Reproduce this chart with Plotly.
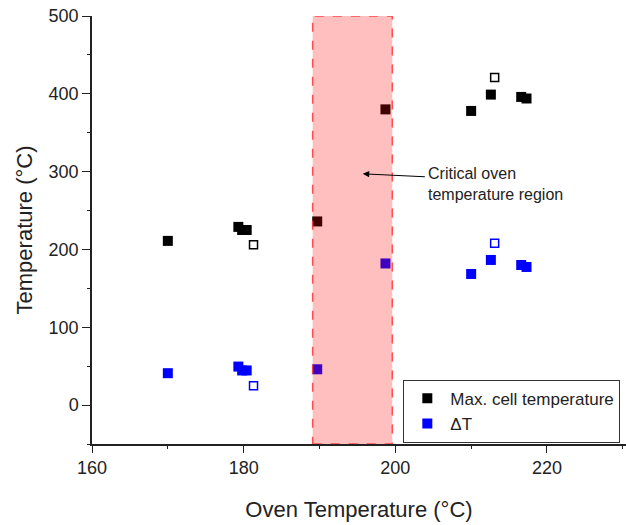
import plotly.graph_objects as go

# ---- data ----
oven_temp = [170.0, 179.3, 179.8, 180.4, 181.3, 189.7, 198.7, 210.0, 212.6, 213.1, 216.6, 217.3]
max_cell_temp = [211, 229, 225, 225, 206, 236, 380, 378, 399, 421, 396, 394]
delta_t = [41, 49.5, 44.5, 44.5, 25, 46, 182, 168.5, 186.5, 208, 180, 177.5]
open_marker = [False, False, False, False, True, False, False, False, False, True, False, False]

region_x = [189.1, 199.6]
region_y = [-50, 500]

x_ticks = [160, 180, 200, 220]
y_ticks = [0, 100, 200, 300, 400, 500]

FONT = "Arial, 'Liberation Sans', Helvetica, sans-serif"

def pick(vals, flag):
    return [v for v, o in zip(vals, open_marker) if o == flag]

fig = go.Figure()

# filled markers
fig.add_trace(go.Scatter(
    x=pick(oven_temp, False), y=pick(max_cell_temp, False), mode="markers",
    name="Max. cell temperature",
    marker=dict(symbol="square", size=10, color="#000000", line=dict(width=0)),
))
fig.add_trace(go.Scatter(
    x=pick(oven_temp, False), y=pick(delta_t, False), mode="markers",
    name="\u0394T",
    marker=dict(symbol="square", size=10, color="#0000ff", line=dict(width=0)),
))
# open markers
fig.add_trace(go.Scatter(
    x=pick(oven_temp, True), y=pick(max_cell_temp, True), mode="markers",
    showlegend=False,
    marker=dict(symbol="square-open", size=8, color="#000000", line=dict(width=1.5, color="#000000")),
))
fig.add_trace(go.Scatter(
    x=pick(oven_temp, True), y=pick(delta_t, True), mode="markers",
    showlegend=False,
    marker=dict(symbol="square-open", size=8, color="#0000ff", line=dict(width=1.5, color="#0000ff")),
))

# critical region band (drawn above markers, translucent)
fig.add_shape(
    type="rect", xref="x", yref="y",
    x0=region_x[0], x1=region_x[1], y0=region_y[0], y1=region_y[1],
    fillcolor="rgba(255,0,0,0.25)",
    line=dict(color="rgba(255,60,60,0.9)", width=1.5, dash="dash"),
    layer="above",
)

# annotation text
fig.add_annotation(
    x=204.4, y=284, xref="x", yref="y", xshift=-3,
    text="Critical oven<br>temperature region",
    showarrow=False, xanchor="left", yanchor="middle", align="left",
    font=dict(family=FONT, size=16, color="#222222"),
)
# arrow
fig.add_annotation(
    x=195.7, y=297.2, xref="x", yref="y",
    ax=204.1, ay=293.3, axref="x", ayref="y",
    text="", showarrow=True, arrowhead=2, arrowsize=1.3, arrowwidth=1,
    arrowcolor="#000000", standoff=0, startstandoff=0,
)

fig.update_layout(
    width=626, height=525,
    margin=dict(l=92, r=0, t=16, b=81, autoexpand=False),
    plot_bgcolor="white", paper_bgcolor="white",
    font=dict(family=FONT, size=18, color="#222222"),
    showlegend=True,
    legend=dict(
        x=0.583, y=0.15, xanchor="left", yanchor="top",
        bgcolor="white", bordercolor="#333333", borderwidth=1,
        itemwidth=36,
        font=dict(family=FONT, size=17, color="#222222"),
    ),
    xaxis=dict(
        range=[160, 230.42], tickvals=x_ticks,
        ticks="outside", ticklen=7, tickwidth=1.2, tickcolor="#222222",
        showline=True, linecolor="#222222", linewidth=1.5,
        showgrid=False, zeroline=False,
        minor=dict(dtick=10, tick0=160, ticks="outside", ticklen=3, tickwidth=1.2, tickcolor="#222222", showgrid=False),
        tickfont=dict(size=18),
        title=dict(text="Oven Temperature (\u00b0C)", font=dict(size=22), standoff=24),
    ),
    yaxis=dict(
        range=[-50, 500], tickvals=y_ticks,
        ticks="outside", ticklen=8, tickwidth=1.2, tickcolor="#222222",
        showline=True, linecolor="#222222", linewidth=1.5,
        showgrid=False, zeroline=False,
        minor=dict(dtick=50, tick0=0, ticks="outside", ticklen=3, tickwidth=1.2, tickcolor="#222222", showgrid=False),
        tickfont=dict(size=18),
        title=dict(text="Temperature (\u00b0C)", font=dict(size=22), standoff=10),
    ),
)

fig.write_html("out.html")
